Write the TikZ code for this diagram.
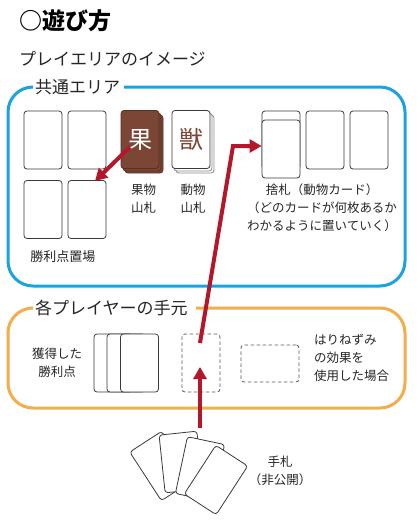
\documentclass[tikz,border=0pt]{standalone}
\usepackage{fontspec}
\newfontfamily\cjk{Noto Sans CJK JP}
\usetikzlibrary{arrows.meta}
\definecolor{areablue}{HTML}{1CA3DD}
\definecolor{areaorange}{HTML}{F3AE4B}
\definecolor{fruitbrown}{HTML}{7B4636}
\definecolor{arrowred}{HTML}{B4172C}
\definecolor{cardline}{HTML}{3A3A3A}
\tikzset{
  card/.style={draw=cardline, line width=0.8pt, fill=white, rounded corners=3pt, minimum width=38pt, minimum height=58pt, inner sep=0pt},
  dcard/.style={card, dash pattern=on 3.5pt off 2.5pt, draw=cardline!85},
  fcard/.style={card, fill=fruitbrown, draw=fruitbrown!70!black},
  area/.style={line width=3pt, rounded corners=25pt},
  lbl/.style={font=\cjk\fontsize{12.5}{18}\selectfont, text=black!85, align=center, inner sep=0pt},
  biglbl/.style={font=\cjk\fontsize{17}{20}\selectfont, text=black!85, inner sep=0pt, anchor=west},
  redarrow/.style={draw=arrowred, line width=4pt, -{Triangle[length=12pt,width=13pt]}}
}
\begin{document}
\begin{tikzpicture}[x=1pt,y=-1pt]
\useasboundingbox (0,0) rectangle (416,523);
\fill[white] (0,0) rectangle (416,523);
% titles
\node[font=\cjk\bfseries\fontsize{23}{26}\selectfont, anchor=west, inner sep=0pt] (title) at (19,21) {○遊び方};
\node[biglbl] (sub) at (19,59) {プレイエリアのイメージ};
% common area
\draw[area, draw=areablue] (30,87) -- (8,87) -- (8,286) -- (405,286) -- (405,87) -- (124,87);
\node[biglbl] (common) at (35,87) {共通エリア};
% player area
\draw[area, draw=areaorange] (30,308) -- (8,308) -- (8,408) -- (405,408) -- (405,308) -- (196,308);
\node[biglbl] (player) at (35,308) {各プレイヤーの手元};
% victory point cards
\node[card] (v1) at (43,140) {};
\node[card] (v2) at (87,140) {};
\node[card] (v3) at (43,209.5) {};
\node[card] (v4) at (87,209.5) {};
\node[lbl, font=\cjk\fontsize{13}{18}\selectfont] (vlbl) at (63,257) {勝利点置場};
% fruit deck
\node[fcard] (f3) at (144,144) {};
\node[fcard] (f2) at (142,142) {};
\node[fcard, text=white, font=\cjk\fontsize{24}{26}\selectfont] (f1) at (140,139.5) {果};
\node[lbl] (flbl) at (143.5,199) {果物\\山札};
% animal deck
\node[card, draw=black!45] (a3) at (195,144) {};
\node[card, draw=black!45] (a2) at (193,142) {};
\node[card, text=fruitbrown, font=\cjk\fontsize{24}{26}\selectfont] (a1) at (191,139.5) {獣};
\node[lbl] (albl) at (193,199) {動物\\山札};
% discard
\node[card] (d2) at (281,140) {};
\node[card] (d1) at (281,149) {};
\node[card] (d3) at (325,140) {};
\node[card] (d4) at (369,140) {};
\node[lbl] (dlbl) at (322,208) {捨札（動物カード）\\（どのカードが何枚あるか\\わかるように置いていく）};
% player area items
\node[lbl] (glbl) at (57,362.5) {獲得した\\勝利点};
\node[card] (w1) at (113,363) {};
\node[card] (w2) at (126,363) {};
\node[card] (w3) at (139.5,363) {};
\node[dcard] (dc) at (201,363) {};
\node[dcard, minimum width=58pt, minimum height=37pt] (dl) at (270,363.5) {};
\node[lbl, align=left, anchor=west] (hlbl) at (314,358) {はりねずみ\\の効果を\\使用した場合};
% hand
\node[card, rotate=33] (h1) at (161.5,466) {};
\node[card, rotate=6] (h2) at (181,462) {};
\node[card, rotate=-12] (h3) at (200,469) {};
\node[card, rotate=-33] (h4) at (216,480) {};
\node[lbl] (hand) at (280,471) {手札\\（非公開）};
% arrows
\coordinate (s1) at (130,147);
\coordinate (t1) at (95,181);
\draw[redarrow] (s1) -- (t1);
\coordinate (s2) at (200,343);
\coordinate (k2) at (233,146);
\draw[redarrow] (s2) -- (k2) -- (d1.west |- k2);
\coordinate (s3) at (200,428);
\coordinate (t3) at (200,367);
\draw[redarrow] (s3) -- (t3);
\end{tikzpicture}
\end{document}
